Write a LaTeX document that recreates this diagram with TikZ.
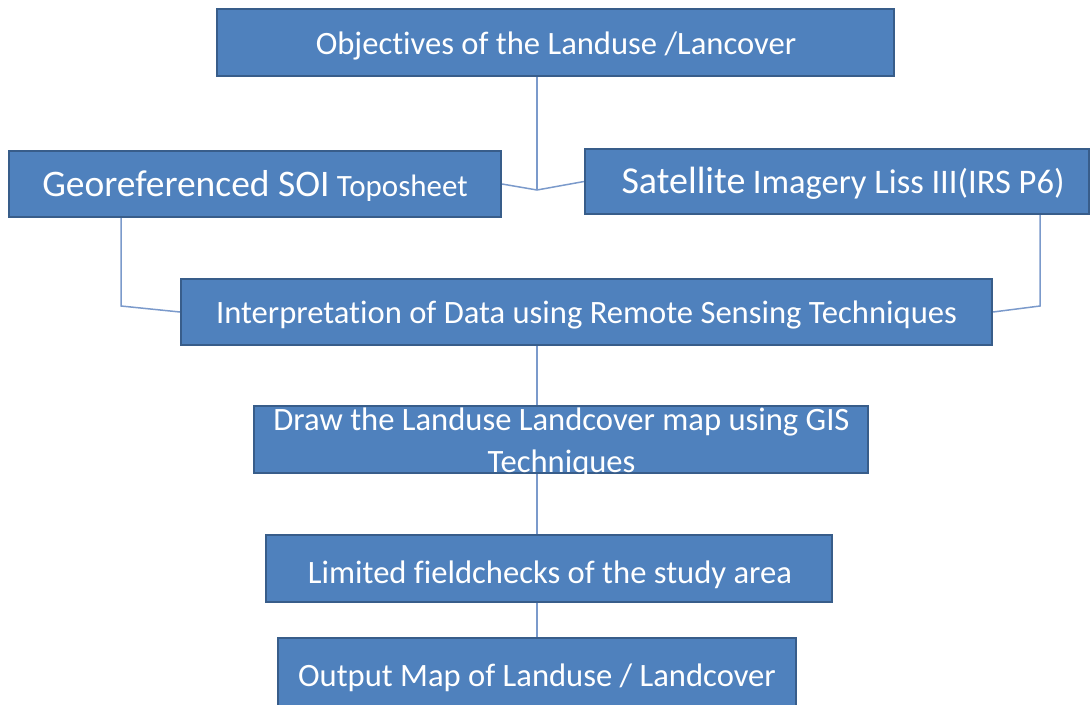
\documentclass[tikz,border=0pt]{standalone}
\usepackage{fontspec}
\setmainfont{Carlito}[Ligatures=NoCommon]
\usetikzlibrary{backgrounds}
\definecolor{boxfill}{HTML}{4F81BD}
\definecolor{boxline}{HTML}{385D8A}
\definecolor{conn}{HTML}{7B9ACB}
\begin{document}
\begin{tikzpicture}[x=1pt,y=-1pt,
  box/.style={draw=boxline, fill=boxfill, line width=2pt, rectangle, inner sep=0pt},
  lbl/.style={text=white, anchor=base, inner sep=0pt, font=\fontsize{32.6}{42}\selectfont},
  link/.style={draw=conn, line width=1.5pt}]
\useasboundingbox (0,0) rectangle (1091,704);
% boxes
\node[box, minimum width=677, minimum height=67] (obj) at (555.5,42.5) {};
\node[box, minimum width=492, minimum height=66] (geo) at (255,184) {};
\node[box, minimum width=504, minimum height=65] (sat) at (837,181.5) {};
\node[box, minimum width=811, minimum height=66] (interp) at (586.5,312) {};
\node[box, minimum width=614, minimum height=67] (drawbox) at (561,439.5) {};
\node[box, minimum width=566, minimum height=67] (field) at (549,568.5) {};
\node[box, minimum width=518, minimum height=70] (out) at (537,673) {};
% labels
\node[lbl] (objtxt) at (556,54.5) {Objectives of the Landuse /Lancover};
\node[lbl] (geotxt) at (255,196) {{\fontsize{37.5}{46}\selectfont Georeferenced SOI} {\fontsize{31}{39}\selectfont Toposheet}};
\node[lbl] (sattxt) at (843,193) {{\fontsize{38}{46}\selectfont Satellite} {\fontsize{34.5}{42}\selectfont Imagery Liss III(IRS P6)}};
\node[lbl] (interptxt) at (586.5,323) {Interpretation of Data using Remote Sensing Techniques};
\node[lbl] (drawtxta) at (561.5,430) {Draw the Landuse Landcover map using GIS};
\node[lbl] (drawtxtb) at (561.5,472) {Techniques};
\node[lbl] (fieldtxt) at (550,583) {Limited fieldchecks of the study area};
\node[lbl] (outtxt) at (537,686) {Output Map of Landuse / Landcover};
% connectors
\coordinate (j1) at (537,190);
\coordinate (g1) at (121,306);
\coordinate (s1) at (1040,306);
\begin{pgfonlayer}{background}
\draw[link] (obj.south -| j1) -- (j1);
\draw[link] (geo.east) -- (j1) -- (sat.west);
\draw[link] (geo.south -| g1) -- (g1) -- (interp.west);
\draw[link] (sat.south -| s1) -- (s1) -- (interp.east);
\draw[link] (interp.south -| j1) -- (drawbox.north -| j1);
\draw[link] (drawbox.south -| j1) -- (field.north -| j1);
\draw[link] (field.south -| j1) -- (out.north -| j1);
\end{pgfonlayer}
\end{tikzpicture}
\end{document}
